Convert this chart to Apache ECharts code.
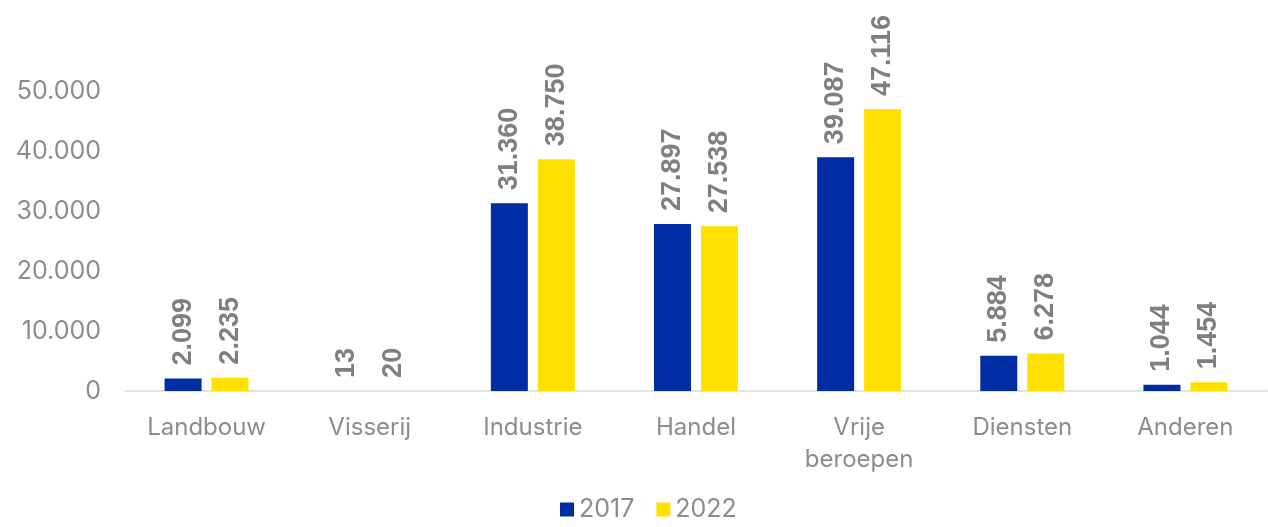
<!DOCTYPE html>
<html><head><meta charset="utf-8">
<script src="https://cdn.jsdelivr.net/npm/echarts@6/dist/echarts.min.js"></script>
<style>html,body{margin:0;padding:0;background:#fff}#c{width:1268px;height:527px}</style>
</head><body><div id="c"></div>
<script>
const categories = ['Landbouw','Visserij','Industrie','Handel','Vrije\nberoepen','Diensten','Anderen'];
const series2017 = [2099, 13, 31360, 27897, 39087, 5884, 1044];
const series2022 = [2235, 20, 38750, 27538, 47116, 6278, 1454];
const seriesNames = ['2017','2022'];
const fmt = v => v.toString().replace(/\B(?=(\d{3})+(?!\d))/g, '.');
const font = 'Inter, "Noto Sans", sans-serif';
const lbl = {
  show: true, position: 'top', rotate: 90, align: 'left', verticalAlign: 'middle',
  distance: 13, color: '#7f7f7f', fontWeight: 'bold', fontSize: 27, fontFamily: 'Liberation Sans, Arial, sans-serif',
  formatter: p => fmt(p.value)
};
const chart = echarts.init(document.getElementById('c'));
chart.setOption({
  animation: false,
  grid: { left: 125, right: 1, top: 32, bottom: 136 },
  legend: {
    bottom: 0, left: 555, itemWidth: 14, itemHeight: 14, itemGap: 22,
    icon: 'rect',
    textStyle: { color: '#8c8c8c', fontSize: 25, fontFamily: font }
  },
  xAxis: {
    type: 'category', data: categories,
    axisLine: { lineStyle: { color: '#d9d9d9', width: 1.5 } },
    axisTick: { show: false },
    axisLabel: { color: '#8c8c8c', fontSize: 24, fontFamily: font, margin: 21, lineHeight: 32, interval: 0 }
  },
  yAxis: {
    type: 'value', min: 0, max: 60000, interval: 10000,
    splitLine: { show: false },
    axisLine: { show: false }, axisTick: { show: false },
    axisLabel: { color: '#8c8c8c', fontSize: 25, fontFamily: font, margin: 24,
      formatter: v => v === 60000 ? '' : fmt(v) }
  },
  series: [
    { name: seriesNames[0], type: 'bar', data: series2017, barWidth: 37, barGap: '27%',
      itemStyle: { color: '#002DA3' }, label: lbl },
    { name: seriesNames[1], type: 'bar', data: series2022, barWidth: 37,
      itemStyle: { color: '#FFE100' }, label: lbl }
  ]
});
</script></body></html>
